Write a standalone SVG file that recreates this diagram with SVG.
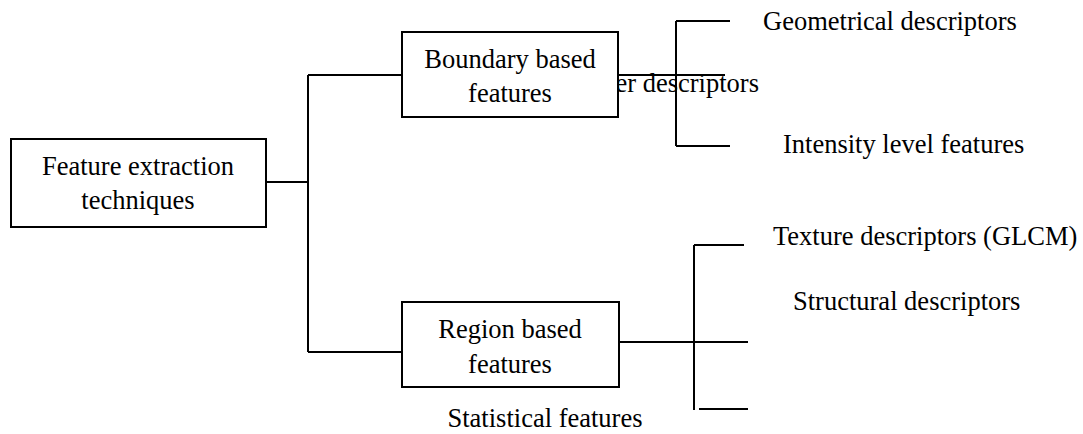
<svg xmlns="http://www.w3.org/2000/svg" width="1083" height="434" viewBox="0 0 1083 434">
<style>
text{font-family:"Liberation Serif","Times New Roman",serif;font-size:26.5px;fill:#000}
.box{fill:#fff;stroke:#000;stroke-width:2}
.c line{stroke:#000;stroke-width:2}
.m{text-anchor:middle}
</style>
<rect width="1083" height="434" fill="#fff"/>
<g id="labels">
<text x="759" y="92" text-anchor="end">er descriptors</text>
<text x="763" y="30">Geometrical descriptors</text>
<text x="783" y="153">Intensity level features</text>
<text x="773" y="245">Texture descriptors (GLCM)</text>
<text x="793" y="310">Structural descriptors</text>
<text x="545" y="427" class="m">Statistical features</text>
</g>
<g class="c" id="connectors">
<line x1="266" y1="182" x2="308" y2="182"/>
<line x1="308" y1="75" x2="308" y2="352"/>
<line x1="308" y1="75" x2="402" y2="75"/>
<line x1="308" y1="352" x2="402" y2="352"/>
<line x1="618" y1="75" x2="725" y2="75"/>
<line x1="676" y1="21" x2="676" y2="146"/>
<line x1="676" y1="21" x2="730" y2="21"/>
<line x1="676" y1="146" x2="730" y2="146"/>
<line x1="619" y1="342" x2="748" y2="342"/>
<line x1="694" y1="245" x2="694" y2="410"/>
<line x1="694" y1="245" x2="744" y2="245"/>
<line x1="699" y1="409" x2="748" y2="409"/>
</g>
<g id="root">
<rect class="box" x="11" y="139" width="255" height="88"/>
<text x="138" y="175" class="m">Feature extraction</text>
<text x="138" y="209" class="m">techniques</text>
</g>
<g id="boundary">
<rect class="box" x="402" y="32" width="216" height="85"/>
<text x="510" y="68" class="m">Boundary based</text>
<text x="510" y="102" class="m">features</text>
</g>
<g id="region">
<rect class="box" x="402" y="302" width="217" height="85"/>
<text x="510" y="338" class="m">Region based</text>
<text x="510" y="373" class="m">features</text>
</g>
</svg>
